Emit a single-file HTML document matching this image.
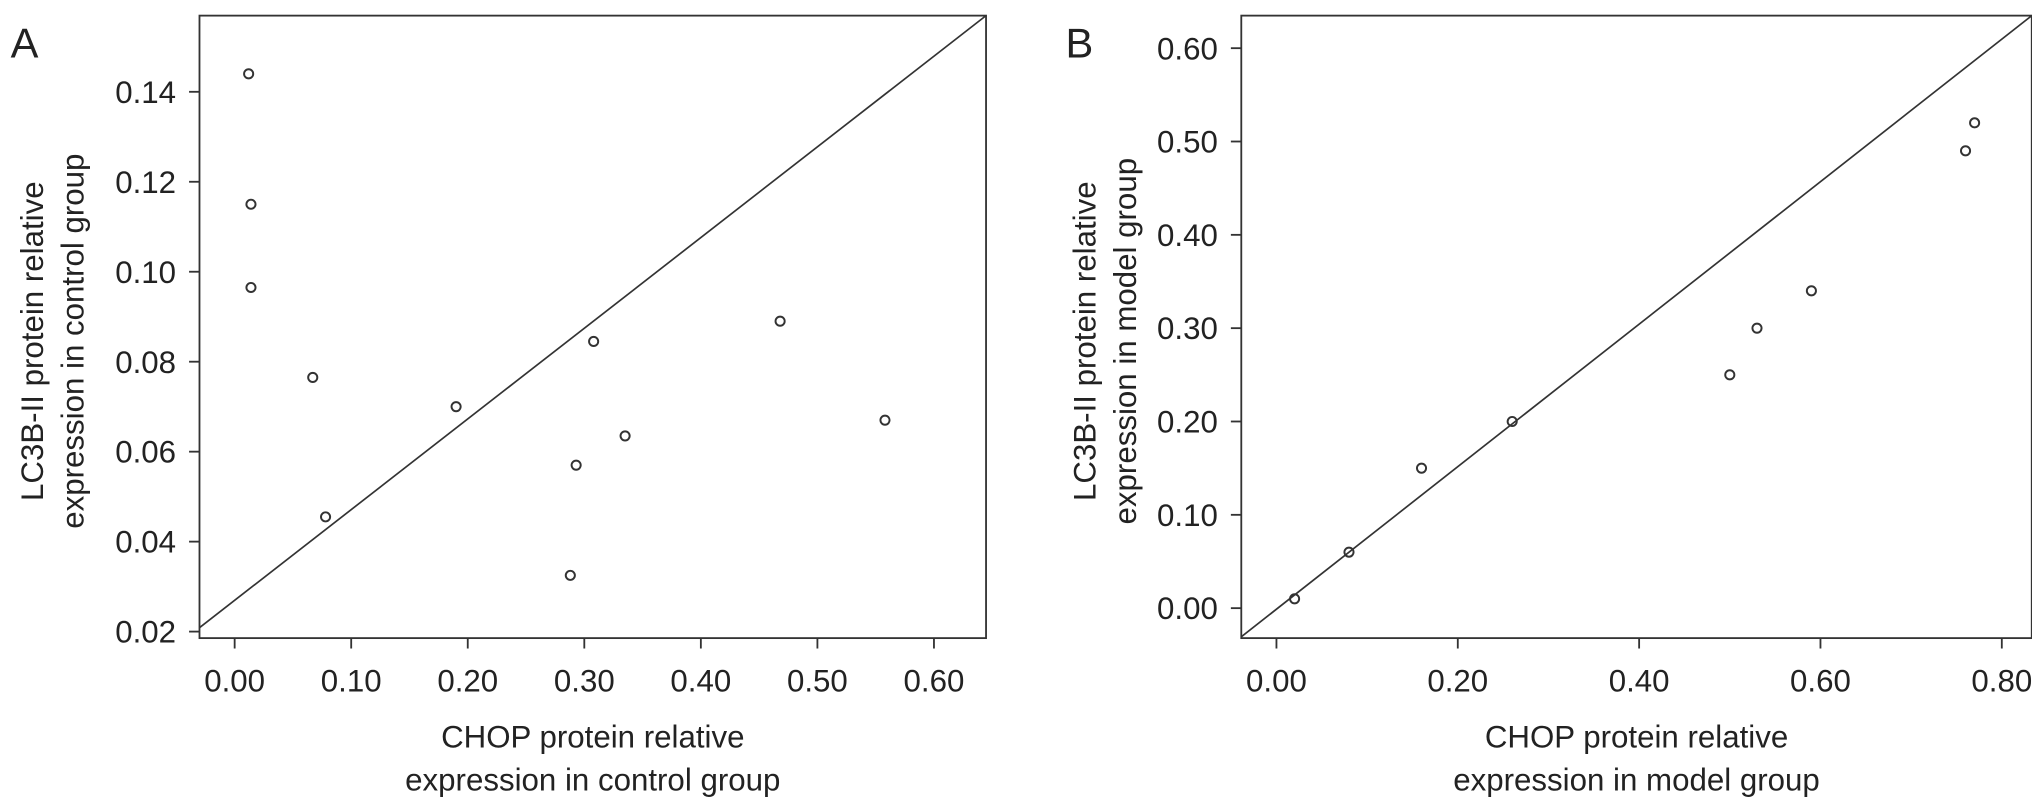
<!DOCTYPE html>
<html><head><meta charset="utf-8"><style>body{margin:0;background:#fff}svg{display:block}text{font-family:"Liberation Sans",sans-serif;fill:#222}</style></head>
<body>
<svg id="c" width="2032" height="810" viewBox="0 0 1560 622"></svg>
<script>
const aX=[0.012,0.014,0.014,0.067,0.078,0.19,0.288,0.293,0.308,0.335,0.468,0.558];
const aY=[0.144,0.115,0.0965,0.0765,0.0455,0.070,0.0325,0.057,0.0845,0.0635,0.089,0.067];
const aXTicks=[0,0.1,0.2,0.3,0.4,0.5,0.6];
const aYTicks=[0.02,0.04,0.06,0.08,0.10,0.12,0.14];
const bX=[0.02,0.08,0.16,0.26,0.50,0.53,0.59,0.76,0.77];
const bY=[0.01,0.06,0.15,0.20,0.25,0.30,0.34,0.49,0.52];
const bXTicks=[0,0.2,0.4,0.6,0.8];
const bYTicks=[0,0.1,0.2,0.3,0.4,0.5,0.6];
const svg=document.getElementById('c');
const NS='http://www.w3.org/2000/svg';
function mk(tag,at,txt){const e=document.createElementNS(NS,tag);for(const k in at)e.setAttribute(k,at[k]);if(txt!==undefined)e.textContent=txt;svg.appendChild(e);return e;}
function panel(p){
  const sx=v=>p.x0+(v-p.xa)/(p.xb-p.xa)*(p.x1-p.x0);
  const sy=v=>p.y0+(v-p.ya)/(p.yb-p.ya)*(p.y1-p.y0);
  let e=mk('rect',{x:p.L,y:12,width:p.R-p.L,height:478,fill:'none',stroke:'#333','stroke-width':1.4});
  
  
  e=mk('line',{x1:p.L,y1:p.dy,x2:p.R,y2:12,stroke:'#333','stroke-width':1.3});
  
  
  p.xt.forEach(v=>{
    const x=sx(v);
    mk('line',{x1:x,y1:490,x2:x,y2:498,stroke:'#333','stroke-width':1.4});
    e=mk('text',{x:x,y:531,'font-size':24,'text-anchor':'middle'},v.toFixed(2));
    
    
  });
  p.yt.forEach(v=>{
    const y=sy(v);
    mk('line',{x1:p.L-8,y1:y,x2:p.L,y2:y,stroke:'#333','stroke-width':1.4});
    e=mk('text',{x:p.L-18,y:y+8.5,'font-size':24,'text-anchor':'end'},v.toFixed(2));
    
    
  });
  p.px.forEach((v,i)=>{
    e=mk('circle',{cx:sx(v),cy:sy(p.py[i]),r:3.5,fill:'none',stroke:'#333','stroke-width':1.5});
    
    
  });
  e=mk('text',{x:p.lx,y:44,'font-size':32},p.id);
  
  
  const cx=(p.L+p.R)/2;
  e=mk('text',{x:cx,y:574,'font-size':24,'text-anchor':'middle'},p.xl1);
  
  
  mk('text',{x:cx,y:607,'font-size':24,'text-anchor':'middle'},p.xl2);
  e=mk('text',{x:0,y:0,'font-size':24,'text-anchor':'middle',transform:`translate(${p.tx},262) rotate(-90)`},p.yl1);
  
  
  mk('text',{x:0,y:0,'font-size':24,'text-anchor':'middle',transform:`translate(${p.tx+31},262) rotate(-90)`},p.yl2);
}
panel({id:'A',L:153,R:757,dy:482,x0:180,x1:717,xa:0,xb:0.6,y0:485,y1:70.5,ya:0.02,yb:0.14,
  xt:aXTicks,yt:aYTicks,px:aX,py:aY,lx:8,tx:33,
  xl1:'CHOP protein relative',xl2:'expression in control group',
  yl1:'LC3B-II protein relative',yl2:'expression in control group'});
panel({id:'B',L:953,R:1560,dy:489,x0:980,x1:1537,xa:0,xb:0.8,y0:467,y1:37,ya:0,yb:0.6,
  xt:bXTicks,yt:bYTicks,px:bX,py:bY,lx:818,tx:841,
  xl1:'CHOP protein relative',xl2:'expression in model group',
  yl1:'LC3B-II protein relative',yl2:'expression in model group'});
</script>
</body></html>
